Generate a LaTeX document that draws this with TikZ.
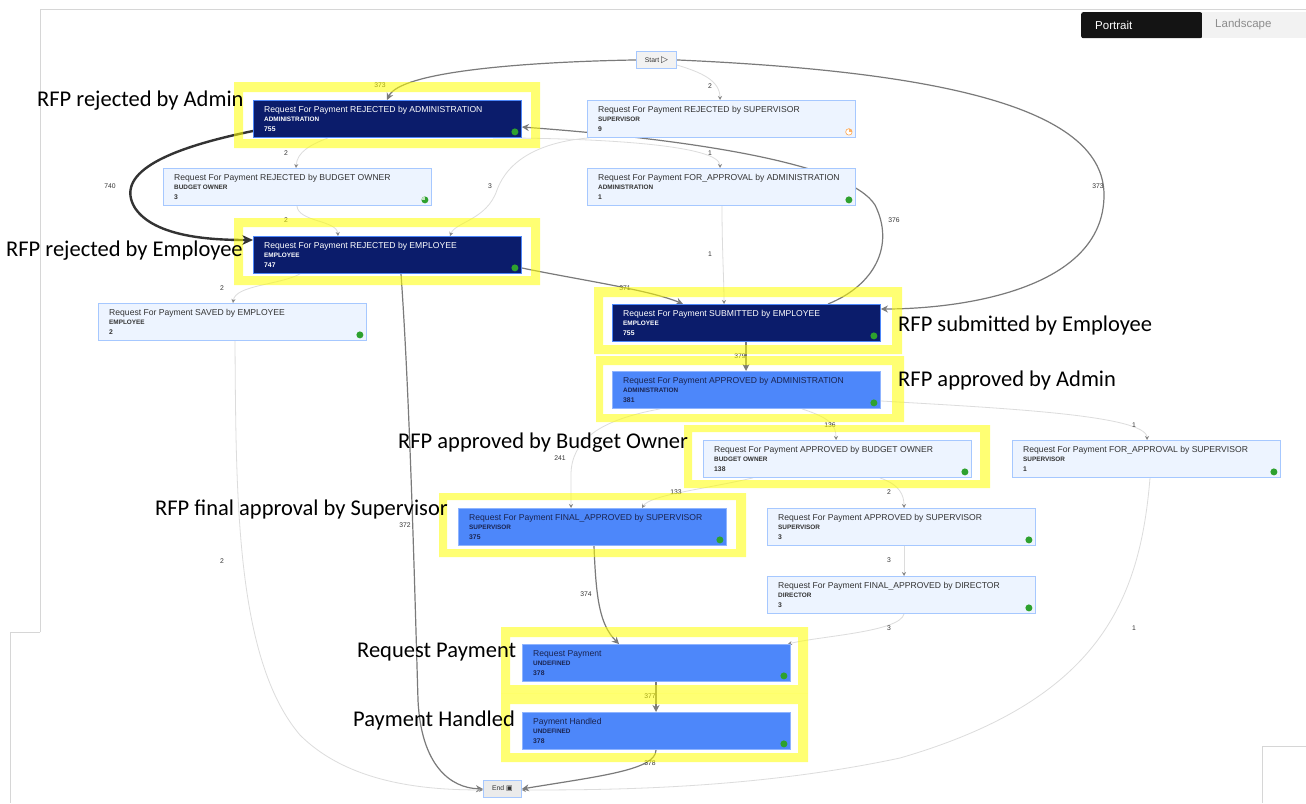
\documentclass[tikz,border=0pt]{standalone}
\usepackage{fontspec}
\setmainfont{Liberation Sans}
\newfontfamily\annfont{Carlito}
\newfontfamily\symfont{DejaVu Sans}
\usetikzlibrary{arrows.meta,calc}
\pgfdeclarelayer{background}
\pgfdeclarelayer{front}
\pgfsetlayers{background,main,front}
\definecolor{navy}{HTML}{0B1C6B}
\definecolor{midblue}{HTML}{4D87FA}
\definecolor{midborder}{HTML}{8FB4FF}
\definecolor{lightfill}{HTML}{EDF4FF}
\definecolor{lightborder}{HTML}{A6C8FF}
\definecolor{midtext}{HTML}{1A2450}
\definecolor{lighttext}{HTML}{333333}
\definecolor{edgeL}{HTML}{DCDCDC}
\definecolor{edgeM}{HTML}{7A7A7A}
\definecolor{edgeD}{HTML}{333333}
\definecolor{dotgreen}{HTML}{2EA12E}
\definecolor{hl}{HTML}{FFFF00}
\definecolor{framegray}{HTML}{D6D6D6}
\tikzset{
  boxbase/.style={rectangle, minimum width=268pt, minimum height=37pt, inner sep=0pt, line width=0.9pt},
  darkbox/.style={boxbase, fill=navy, draw=midblue},
  midbox/.style={boxbase, fill=midblue, draw=midborder},
  lightbox/.style={boxbase, fill=lightfill, draw=lightborder},
  ntitle/.style={inner sep=0pt, font=\fontsize{8.6}{9}\selectfont},
  nsub/.style={inner sep=0pt, font=\bfseries\fontsize{6.4}{7}\selectfont},
  nnum/.style={inner sep=0pt, font=\bfseries\fontsize{6.8}{7}\selectfont},
  gdot/.style={circle, fill=dotgreen, minimum size=7pt, inner sep=0pt},
  opie/.style={circle, draw=orange!70, fill=white, minimum size=6.5pt, inner sep=0pt, line width=0.6pt,
     path picture={\fill[orange!60] (path picture bounding box.center) -- (path picture bounding box.north) -| (path picture bounding box.east) -- cycle;}},
  gpie/.style={circle, fill=dotgreen, minimum size=7pt, inner sep=0pt,
     path picture={\fill[dotgreen!30!white] (path picture bounding box.center) -- (path picture bounding box.north) -| (path picture bounding box.west) -- cycle;}},
  elight/.style={draw=edgeL, line width=0.8pt, -{Stealth[length=4pt,width=4pt,color=edgeM!90]}},
  emed/.style={draw=edgeM, line width=1.2pt, -{Stealth[length=7pt,width=7pt]}},
  ethick/.style={draw=edgeD, line width=2.4pt, -{Stealth[length=11pt,width=10pt]}},
  elab/.style={font=\fontsize{6.8}{7}\selectfont, text=lighttext, inner sep=0pt},
  ann/.style={font=\annfont\fontsize{22.5}{24}\selectfont, inner sep=0pt, anchor=base west},
  frame/.style={fill=hl, opacity=0.55, even odd rule},
  termbox/.style={rectangle, draw=lightborder, line width=0.9pt, inner sep=0pt, minimum height=17pt},
}
\newcommand\procbox[9]{%
  \node[#2, anchor=north west] (#1) at (#4,#5) {};
  \node[ntitle, text=#3, anchor=base west] (#1t) at ([xshift=11pt,yshift=-12pt]#1.north west) {#6};
  \node[nsub, text=#3, anchor=base west] (#1s) at ([xshift=11pt,yshift=-21pt]#1.north west) {#7};
  \node[nnum, text=#3, anchor=base west] (#1n) at ([xshift=11pt,yshift=-31pt]#1.north west) {#8};
  \node[#9] (#1d) at ([xshift=-7pt,yshift=6pt]#1.south east) {};
}
\begin{document}
\begin{tikzpicture}[x=1pt,y=-1pt]
\useasboundingbox (0,0) rectangle (1306,803);
\begin{pgfonlayer}{background}
\fill[white] (0,0) rectangle (1306,803);
\end{pgfonlayer}
% page frame lines
\draw[framegray, line width=1pt] (40,632) -- (40,9) -- (1306,9);
\draw[framegray, line width=1pt] (40,632) -- (10,632) -- (10,803);
\draw[framegray, line width=1pt] (1262,803) -- (1262,746) -- (1306,746);
% toggle
\node[fill=black!92, rounded corners=2pt, minimum width=121pt, minimum height=26pt, inner sep=0pt, anchor=north west] (tgp) at (1081,12) {};
\node[fill=black!5, minimum width=104pt, minimum height=26pt, inner sep=0pt, anchor=north west] (tgl) at (1202,12) {};
\node[text=white, font=\fontsize{11.5}{12}\selectfont, anchor=west, inner sep=0pt] (tgpt) at (1095,25) {Portrait};
\node[text=black!45, font=\fontsize{11.5}{12}\selectfont, anchor=west, inner sep=0pt] (tglt) at (1215,25) {Landscape};
% terminals
\node[termbox, fill=black!5, minimum width=40pt, anchor=north west] (start) at (636,51) {};
\node[font=\fontsize{6.8}{7}\selectfont, text=lighttext, inner sep=0pt] (startt) at (start.center) {Start {\symfont\fontsize{9}{9}\selectfont ▷}};
\node[termbox, fill=black!8, minimum width=38pt, anchor=north west] (end) at (483,780) {};
\node[font=\fontsize{6.8}{7}\selectfont, text=lighttext, inner sep=0pt] (endt) at (end.center) {End {\symfont\fontsize{7}{7}\selectfont ▣}};
% process boxes
\procbox{ra}{darkbox}{white}{253}{100}{Request For Payment REJECTED by ADMINISTRATION}{ADMINISTRATION}{755}{gdot}
\procbox{rsup}{lightbox}{lighttext}{587}{100}{Request For Payment REJECTED by SUPERVISOR}{SUPERVISOR}{9}{opie}
\procbox{fa}{lightbox}{lighttext}{587}{168}{Request For Payment FOR\_APPROVAL by ADMINISTRATION}{ADMINISTRATION}{1}{gdot}
\procbox{rbo}{lightbox}{lighttext}{163}{168}{Request For Payment REJECTED by BUDGET OWNER}{BUDGET OWNER}{3}{gpie}
\procbox{re}{darkbox}{white}{253}{236}{Request For Payment REJECTED by EMPLOYEE}{EMPLOYEE}{747}{gdot}
\procbox{se}{lightbox}{lighttext}{98}{303}{Request For Payment SAVED by EMPLOYEE}{EMPLOYEE}{2}{gdot}
\procbox{sub}{darkbox}{white}{612}{304}{Request For Payment SUBMITTED by EMPLOYEE}{EMPLOYEE}{755}{gdot}
\procbox{aa}{midbox}{midtext}{612}{371}{Request For Payment APPROVED by ADMINISTRATION}{ADMINISTRATION}{381}{gdot}
\procbox{abo}{lightbox}{lighttext}{703}{440}{Request For Payment APPROVED by BUDGET OWNER}{BUDGET OWNER}{138}{gdot}
\procbox{fas}{lightbox}{lighttext}{1012}{440}{Request For Payment FOR\_APPROVAL by SUPERVISOR}{SUPERVISOR}{1}{gdot}
\procbox{fsup}{midbox}{midtext}{458}{508}{Request For Payment FINAL\_APPROVED by SUPERVISOR}{SUPERVISOR}{375}{gdot}
\procbox{asup}{lightbox}{lighttext}{767}{508}{Request For Payment APPROVED by SUPERVISOR}{SUPERVISOR}{3}{gdot}
\procbox{fdir}{lightbox}{lighttext}{767}{576}{Request For Payment FINAL\_APPROVED by DIRECTOR}{DIRECTOR}{3}{gdot}
\procbox{rp}{midbox}{midtext}{522}{644}{Request Payment}{UNDEFINED}{378}{gdot}
\procbox{ph}{midbox}{midtext}{522}{712}{Payment Handled}{UNDEFINED}{378}{gdot}
% edges
\begin{pgfonlayer}{background}
\draw[emed] (start.west) .. controls (520,62) and (400,72) .. ($(ra.north west)+(134,0)$);
\node[elab] (l1) at (380,85) {373};
\draw[elight] ($(start.north east)+(0,14)$) .. controls (700,72) and (720,80) .. ($(rsup.north west)+(133,0)$);
\node[elab] (l2) at (710,86) {2};
\draw[emed] (start.east) .. controls (950,72) and (1104,110) .. (1104,195) .. controls (1104,290) and (960,309) .. ($(sub.north east)+(0,5)$);
\node[elab] (l3) at (1098,186) {373};
\draw[emed] ($(sub.north west)+(216,0)$) .. controls (875,285) and (895,245) .. (875,205) .. controls (850,165) and (700,140) .. ($(ra.north east)+(0,27)$);
\node[elab] (l4) at (894,220) {376};
\draw[ethick] ($(ra.north west)+(0,31)$) .. controls (160,150) and (115,175) .. (135,208) .. controls (155,238) and (215,240) .. ($(re.north west)+(0,4)$);
\node[elab] (l5) at (110,186) {740};
\draw[elight] ($(ra.south west)+(75,0)$) .. controls (310,145) and (297,152) .. ($(rbo.north west)+(133,0)$);
\node[elab] (l6) at (286,153) {2};
\draw[elight] ($(rbo.south west)+(134,0)$) .. controls (298,222) and (337,220) .. ($(re.north west)+(85,0)$);
\node[elab] (l7) at (286,220) {2};
\draw[elight] ($(rsup.south west)+(2,0)$) .. controls (540,142) and (508,160) .. (497,190) .. controls (487,220) and (455,222) .. ($(re.north west)+(197,0)$);
\node[elab] (l8) at (490,186) {3};
\draw[elight] ($(ra.south west)+(240,0)$) .. controls (600,138) and (720,145) .. ($(fa.north west)+(133,0)$);
\node[elab] (l9) at (710,153) {1};
\draw[emed] ($(re.north east)+(0,32)$) .. controls (580,280) and (650,290) .. ($(sub.north west)+(71,0)$);
\node[elab] (l10) at (625,288) {371};
\draw[elight] ($(re.south west)+(47,0)$) .. controls (280,285) and (235,285) .. ($(se.north west)+(135,0)$);
\node[elab] (l11) at (222,288) {2};
\draw[emed] ($(re.south west)+(148,0)$) .. controls (410,400) and (415,600) .. (418,700) .. controls (421,765) and (450,788) .. (end.west);
\node[elab] (l12) at (405,525) {372};
\draw[elight] ($(se.south west)+(137,0)$) .. controls (236,500) and (236,660) .. (300,735) .. controls (350,785) and (430,790) .. ($(end.west)+(0,1)$);
\node[elab] (l13) at (222,561) {2};
\draw[elight] ($(fa.south west)+(135,0)$) .. controls (722,250) and (724,280) .. ($(sub.north west)+(112,0)$);
\node[elab] (l14) at (710,254) {1};
\draw[emed] ($(sub.south west)+(134,0)$) -- ($(aa.north west)+(134,0)$);
\node[elab] (l15) at (740,356) {379};
\draw[elight] ($(aa.south west)+(190,0)$) .. controls (830,418) and (836,425) .. ($(abo.north west)+(133,0)$);
\node[elab] (l16) at (830,425) {136};
\draw[elight] ($(aa.north east)+(0,30)$) .. controls (1000,408) and (1147,415) .. ($(fas.north west)+(135,0)$);
\node[elab] (l17) at (1134,425) {1};
\draw[elight] ($(aa.south west)+(48,0)$) .. controls (600,420) and (571,440) .. (571,475) -- ($(fsup.north west)+(113,0)$);
\node[elab] (l18) at (560,458) {241};
\draw[elight] ($(abo.south west)+(50,0)$) .. controls (700,490) and (650,495) .. ($(fsup.north west)+(184,0)$);
\node[elab] (l19) at (676,492) {133};
\draw[elight] ($(abo.south west)+(177,0)$) .. controls (900,485) and (904,495) .. ($(asup.north west)+(137,0)$);
\node[elab] (l20) at (889,492) {2};
\draw[elight] ($(asup.south west)+(137,0)$) -- ($(fdir.north west)+(137,0)$);
\node[elab] (l21) at (889,560) {3};
\draw[elight] ($(fdir.south west)+(137,0)$) .. controls (900,632) and (820,636) .. ($(rp.north east)+(-3,0)$);
\node[elab] (l22) at (889,628) {3};
\draw[elight] ($(fas.south west)+(138,0)$) .. controls (1140,600) and (1100,700) .. (900,758) .. controls (750,790) and (600,790) .. ($(end.east)+(0,1)$);
\node[elab] (l23) at (1134,628) {1};
\draw[emed] ($(fsup.south west)+(136,0)$) .. controls (596,600) and (600,625) .. ($(rp.north west)+(97,0)$);
\node[elab] (l24) at (586,594) {374};
\draw[emed] ($(rp.south west)+(134,0)$) -- ($(ph.north west)+(134,0)$);
\node[elab] (l25) at (650,696) {377};
\draw[emed] ($(ph.south west)+(134,0)$) .. controls (656,770) and (600,776) .. (end.east);
\node[elab] (l26) at (650,763) {378};
\end{pgfonlayer}
% highlight frames and annotations
\begin{pgfonlayer}{front}
\fill[frame] (234,82) rectangle (540,148) (243,92) rectangle (531,139);
\fill[frame] (234,218) rectangle (540,285) (243,227) rectangle (531,276);
\fill[frame] (594,287) rectangle (902,354) (603,297) rectangle (892,345);
\fill[frame] (596,356) rectangle (904,422) (603,365) rectangle (892,414);
\fill[frame] (684,425) rectangle (990,488) (692,432) rectangle (980,480);
\fill[frame] (439,493) rectangle (746,557) (447,500) rectangle (736,549);
\fill[frame] (501,627) rectangle (808,693) (510,637) rectangle (798,685);
\fill[frame] (501,693) rectangle (808,762) (510,704) rectangle (798,753);
\node[ann] (a1) at (37,106) {RFP rejected by Admin};
\node[ann] (a2) at (6,256) {RFP rejected by Employee};
\node[ann] (a3) at (898,331) {RFP submitted by Employee};
\node[ann] (a4) at (898,386) {RFP approved by Admin};
\node[ann] (a5) at (398,448) {RFP approved by Budget Owner};
\node[ann] (a6) at (155,515) {RFP final approval by Supervisor};
\node[ann] (a7) at (357,657) {Request Payment};
\node[ann] (a8) at (353,726) {Payment Handled};
\end{pgfonlayer}
\end{tikzpicture}
\end{document}
